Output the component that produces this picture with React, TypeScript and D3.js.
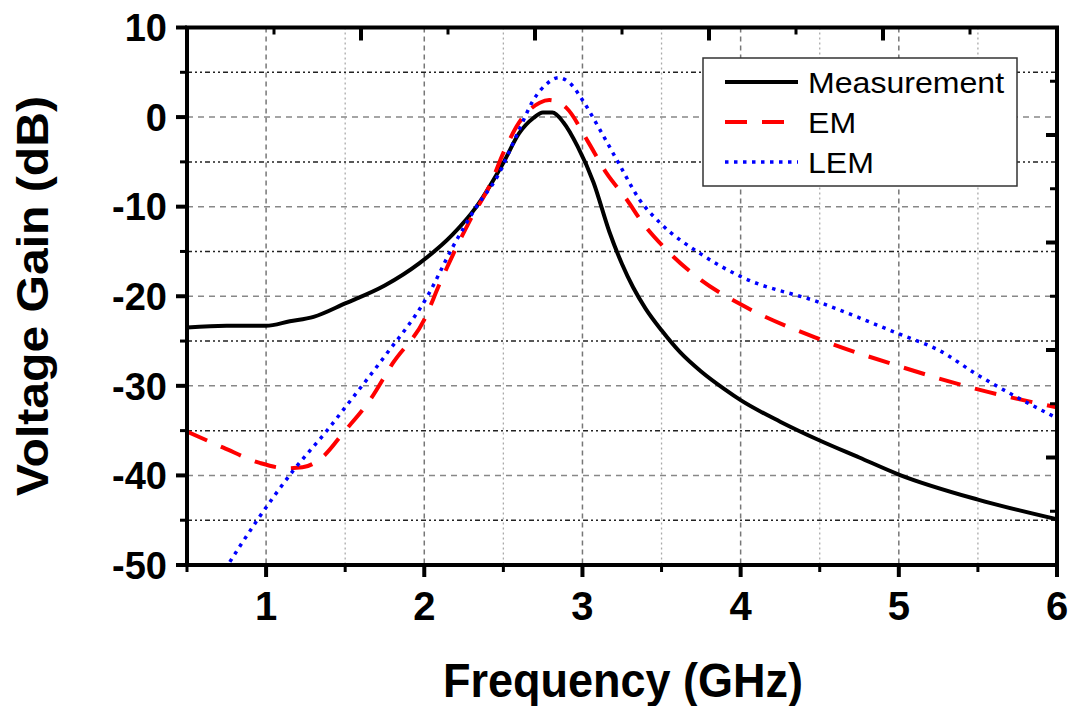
import React from "react";
import * as d3 from "d3";

const measFreq = [0.5, 0.75, 1.0, 1.15, 1.3, 1.5, 1.75, 1.97, 2.18, 2.33, 2.5, 2.6, 2.69, 2.75, 2.81, 2.88, 2.97, 3.07, 3.17, 3.25, 3.32, 3.4, 3.5, 3.62, 3.75, 3.9, 4.0, 4.25, 4.5, 4.75, 5.0, 5.5, 6.0];
const measGain = [-23.5, -23.3, -23.3, -22.8, -22.3, -20.8, -18.8, -16.3, -13.1, -10.0, -5.1, -1.8, -0.1, 0.5, 0.5, -0.6, -3.3, -7.3, -12.8, -16.4, -19.0, -21.4, -23.8, -26.3, -28.4, -30.4, -31.6, -34.0, -36.1, -38.0, -39.9, -42.7, -44.9];

const emFreq = [0.5, 0.73, 0.96, 1.13, 1.23, 1.36, 1.49, 1.66, 1.8, 2.0, 2.1, 2.29, 2.42, 2.5, 2.6, 2.73, 2.79, 2.9, 3.03, 3.15, 3.28, 3.38, 3.53, 3.75, 4.0, 4.5, 5.0, 5.5, 6.0];
const emGain = [-35.1, -36.9, -38.6, -39.2, -39.1, -37.9, -35.2, -31.5, -27.5, -22.6, -18.5, -11.5, -7.4, -4.0, -0.6, 1.6, 1.9, 1.0, -2.6, -6.2, -9.2, -11.8, -14.8, -18.2, -20.9, -24.8, -27.8, -30.4, -32.4];

const lemFreq = [0.74, 0.94, 1.17, 1.38, 1.54, 1.75, 2.02, 2.18, 2.33, 2.46, 2.59, 2.69, 2.78, 2.85, 2.92, 3.0, 3.11, 3.24, 3.36, 3.49, 3.75, 4.0, 4.5, 5.0, 5.25, 5.5, 5.75, 6.0];
const lemGain = [-50.5, -45.1, -39.5, -35.1, -31.5, -26.7, -20.0, -14.5, -10.0, -6.7, -1.8, 1.9, 3.8, 4.4, 3.8, 1.9, -1.4, -5.5, -9.2, -11.8, -15.3, -17.8, -20.7, -24.2, -26.0, -28.8, -31.3, -33.6];

const xTicks = [1, 2, 3, 4, 5, 6];
const xMinor = [0.5, 1.5, 2.5, 3.5, 4.5, 5.5];
const yTicks = [10, 0, -10, -20, -30, -40, -50];
const yMinor = [5, -5, -15, -25, -35, -45];
const legendNames = ["Measurement", "EM", "LEM"];

const L = 187, R = 1057, T = 27.5, B = 565;
const FONT = "'Liberation Sans', Arial, sans-serif";

export default function App() {
  const x = d3.scaleLinear().domain([0.5, 6]).range([L, R]);
  const y = d3.scaleLinear().domain([-50, 10]).range([B, T]);
  const aux = d3.scaleLinear().domain([0, 10]).range([0, 1]);
  const auxTicks = d3.range(1, 10);

  const mk = (fs: number[], gs: number[]) =>
    d3.line<number>().x((_, i) => x(fs[i])).y((_, i) => y(gs[i])).curve(d3.curveMonotoneX)(gs) || "";

  const series = [
    { d: mk(measFreq, measGain), stroke: "#000", w: 4, dash: undefined as string | undefined },
    { d: mk(emFreq, emGain), stroke: "#ff0000", w: 4, dash: "22 15" },
    { d: mk(lemFreq, lemGain), stroke: "#0000ff", w: 3.5, dash: "3.5 5.5" },
  ];

  return (
    <svg width={1074} height={706} style={{ position: "absolute", left: 0, top: 0, background: "#fff" }}>
      <defs>
        <clipPath id="plot">
          <rect x={L} y={T} width={R - L} height={B - T} />
        </clipPath>
      </defs>
      {/* grid */}
      {xMinor.slice(1).map((v) => (
        <line key={"vm" + v} x1={x(v)} x2={x(v)} y1={T} y2={B} stroke="#aaa" strokeWidth={1.3} strokeDasharray="2 3" />
      ))}
      {xTicks.slice(0, -1).map((v) => (
        <line key={"vM" + v} x1={x(v)} x2={x(v)} y1={T} y2={B} stroke="#777" strokeWidth={1.5} strokeDasharray="5 4" />
      ))}
      {yMinor.map((v) => (
        <line key={"hm" + v} x1={L} x2={R} y1={y(v)} y2={y(v)} stroke="#222" strokeWidth={1.5} strokeDasharray="5 3 2 3 2 3" />
      ))}
      {yTicks.slice(1, -1).map((v) => (
        <line key={"hM" + v} x1={L} x2={R} y1={y(v)} y2={y(v)} stroke="#888" strokeWidth={1.5} strokeDasharray="6 5" />
      ))}

      {/* curves */}
      <g clipPath="url(#plot)">
        {series.map((s, i) => (
          <path key={i} d={s.d} fill="none" stroke={s.stroke} strokeWidth={s.w} strokeDasharray={s.dash} strokeLinejoin="round" />
        ))}
      </g>

      {/* frame */}
      <rect x={L} y={T} width={R - L} height={B - T} fill="none" stroke="#000" strokeWidth={4} />

      {/* left ticks */}
      {yTicks.map((v) => (
        <line key={"lt" + v} x1={L - 11} x2={L} y1={y(v)} y2={y(v)} stroke="#000" strokeWidth={4} />
      ))}
      {yMinor.map((v) => (
        <line key={"ltm" + v} x1={L - 7} x2={L} y1={y(v)} y2={y(v)} stroke="#000" strokeWidth={3} />
      ))}
      {/* bottom ticks */}
      {xTicks.map((v) => (
        <line key={"bt" + v} x1={x(v)} x2={x(v)} y1={B} y2={B + 12} stroke="#000" strokeWidth={4} />
      ))}
      {xMinor.map((v) => (
        <line key={"btm" + v} x1={x(v)} x2={x(v)} y1={B} y2={B + 7} stroke="#000" strokeWidth={3} />
      ))}
      {/* top & right inward ticks (secondary axes) */}
      {auxTicks.map((k) => (
        <line key={"tt" + k} x1={L + aux(k) * (R - L)} x2={L + aux(k) * (R - L)} y1={T} y2={T + (k % 2 === 0 ? 13 : 7)} stroke="#000" strokeWidth={k % 2 === 0 ? 4 : 3} />
      ))}
      {auxTicks.map((k) => (
        <line key={"rt" + k} x1={R} x2={R - (k % 2 === 0 ? 11 : 7)} y1={T + aux(k) * (B - T)} y2={T + aux(k) * (B - T)} stroke="#000" strokeWidth={k % 2 === 0 ? 4 : 3} />
      ))}

      {/* tick labels */}
      {yTicks.map((v) => (
        <text key={"yl" + v} x={L - 20} y={y(v)} dy="0.36em" textAnchor="end" fontFamily={FONT} fontWeight="bold" fontSize={38}>
          {v}
        </text>
      ))}
      {xTicks.map((v) => (
        <text key={"xl" + v} x={x(v)} y={620} textAnchor="middle" fontFamily={FONT} fontWeight="bold" fontSize={40}>
          {v}
        </text>
      ))}

      {/* axis titles */}
      <text x={623} y={697} textAnchor="middle" fontFamily={FONT} fontWeight="bold" fontSize={48} textLength={360} lengthAdjust="spacingAndGlyphs">
        Frequency (GHz)
      </text>
      <text transform="translate(48,296) rotate(-90)" textAnchor="middle" fontFamily={FONT} fontWeight="bold" fontSize={45} textLength={400} lengthAdjust="spacingAndGlyphs">
        Voltage Gain (dB)
      </text>

      {/* legend */}
      <rect x={703} y={58} width={314} height={128} fill="#fff" stroke="#333" strokeWidth={1.5} />
      {legendNames.map((n, i) => {
        const s = series[i];
        const ly = 82 + i * 40;
        return (
          <g key={n}>
            <line x1={725} x2={798} y1={ly} y2={ly} stroke={s.stroke} strokeWidth={s.w} strokeDasharray={s.dash} />
            <text x={808} y={ly} dy="0.36em" fontFamily={FONT} fontSize={30} transform={`translate(808,0) scale(1.07,1) translate(-808,0)`}>
              {n}
            </text>
          </g>
        );
      })}
    </svg>
  );
}
